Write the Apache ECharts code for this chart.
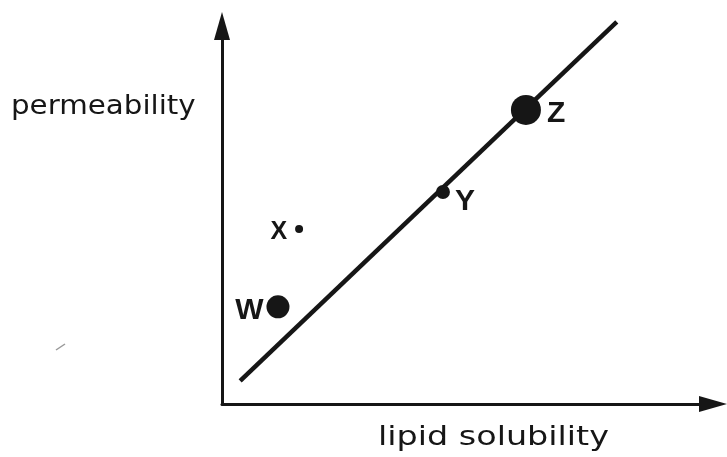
<!DOCTYPE html>
<html>
<head>
<meta charset="utf-8">
<script src="https://cdn.jsdelivr.net/npm/echarts@6/dist/echarts.min.js"></script>
<style>html,body{margin:0;padding:0;background:#fff}#c{width:727px;height:457px}</style>
</head>
<body>
<div id="c"></div>
<script>
// Data (arbitrary units, 0-100 scale on both axes)
const pointNames = ['W', 'X', 'Y', 'Z'];
const pointX = [11.4, 15.7, 45.0, 61.9];
const pointY = [25.7, 46.3, 56.1, 77.8];
const pointSizes = [23, 8, 14, 30];
const lineX = [3.7, 80.4];
const lineY = [6.1, 101.1];
const xTitle = 'lipid solubility';
const yTitle = 'permeability';

const labelCfg = {
  W: {position: 'left', distance: 3, offset: [0, 4], fontSize: 30},
  X: {position: 'left', distance: 8, offset: [0, 3], fontSize: 25},
  Y: {position: 'right', distance: 5, offset: [0, 10], fontSize: 30},
  Z: {position: 'right', distance: 6, offset: [0, 4], fontSize: 30}
};

const chart = echarts.init(document.getElementById('c'), null, {renderer: 'canvas'});
const ink = '#161616';

const scatterData = pointNames.map((n, i) => ({
  name: n,
  value: [pointX[i], pointY[i]],
  symbolSize: pointSizes[i],
  label: {
    show: true,
    formatter: n,
    position: labelCfg[n].position,
    distance: labelCfg[n].distance,
    offset: labelCfg[n].offset,
    fontSize: labelCfg[n].fontSize,
    fontWeight: 'bold',
    fontFamily: '"Liberation Sans", Arial, sans-serif',
    color: ink
  }
}));

chart.setOption({
  animation: false,
  backgroundColor: '#fff',
  grid: {left: 222, right: 14, top: 26, bottom: 53},
  xAxis: {
    type: 'value', min: 0, max: 100,
    axisLine: {show: true, symbol: ['none', 'triangle'], symbolSize: [16, 28], lineStyle: {color: ink, width: 3}},
    axisTick: {show: false}, axisLabel: {show: false}, splitLine: {show: false}
  },
  yAxis: {
    type: 'value', min: 0, max: 100,
    axisLine: {show: true, symbol: ['none', 'triangle'], symbolSize: [16, 28], lineStyle: {color: ink, width: 3}},
    axisTick: {show: false}, axisLabel: {show: false}, splitLine: {show: false}
  },
  series: [
    {
      type: 'line',
      data: lineX.map((x, i) => [x, lineY[i]]),
      showSymbol: false,
      clip: false,
      lineStyle: {color: ink, width: 4.5},
      silent: true
    },
    {
      type: 'scatter',
      data: scatterData,
      itemStyle: {color: ink, opacity: 1},
      z: 5
    }
  ],
  graphic: [
    {
      type: 'text', x: 11, y: 107, scaleX: 1.128,
      style: {text: yTitle, font: '26px "DejaVu Sans"', fill: ink, verticalAlign: 'middle', align: 'left'}
    },
    {
      type: 'text', x: 378, y: 438, scaleX: 1.284,
      style: {text: xTitle, font: '26px "DejaVu Sans"', fill: ink, verticalAlign: 'middle', align: 'left'}
    },
    {
      type: 'line', shape: {x1: 56, y1: 350, x2: 65, y2: 344},
      style: {stroke: '#999', lineWidth: 1.5}
    }
  ]
});
</script>
</body>
</html>
